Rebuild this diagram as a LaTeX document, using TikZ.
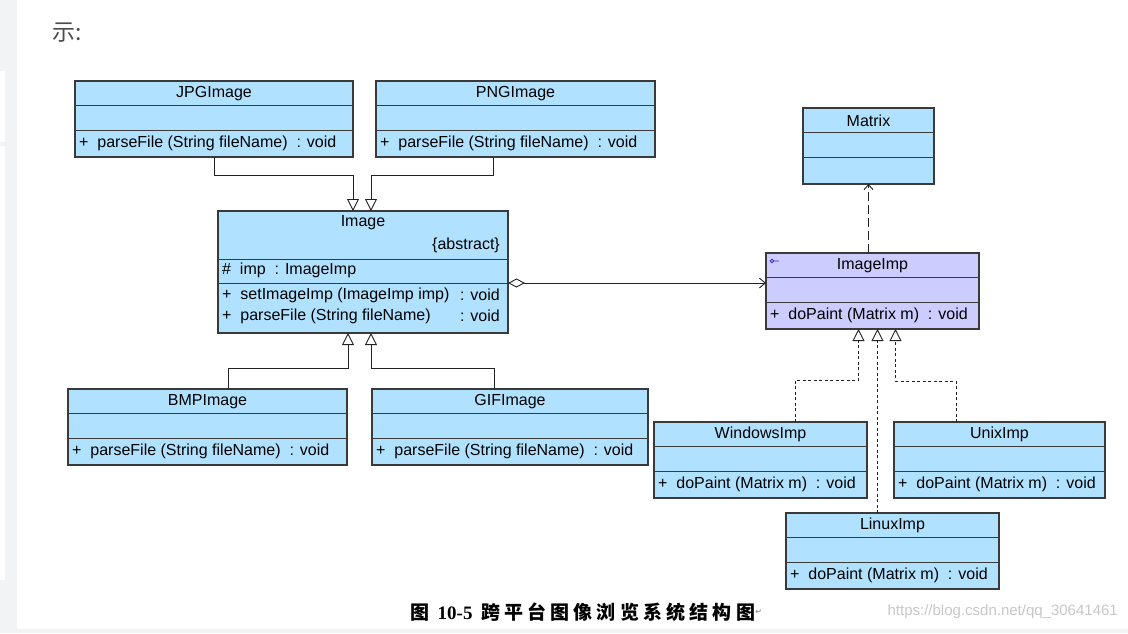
\documentclass[tikz,border=0pt]{standalone}
\usepackage{fontspec}
\setmainfont{Liberation Sans}
\newfontfamily\cjk{Noto Sans CJK SC}
\newfontfamily\capserif{Liberation Serif}
\newfontfamily\symfont{DejaVu Sans}
\usetikzlibrary{arrows.meta}

\definecolor{classblue}{HTML}{B0E2FF}
\definecolor{implilac}{HTML}{CCCCFF}
\definecolor{boxline}{HTML}{3A3A3A}
\definecolor{linkline}{HTML}{222222}
\definecolor{pagegray}{HTML}{F2F3F5}
\definecolor{marktext}{HTML}{C8C8C8}
\definecolor{bodytext}{HTML}{4D4D4D}
\definecolor{iconblue}{HTML}{3030D0}

\tikzset{
  classbox/.style={draw=boxline, line width=1.1pt, fill=classblue, rectangle,
    inner sep=0pt, outer sep=0pt, anchor=north west, minimum height=76pt},
  classline/.style={draw=boxline, line width=1pt},
  umltext/.style={inner sep=0pt, font=\fontsize{16}{19}\selectfont, text=black},
  inherit/.style={draw=linkline, line width=0.9pt, -{Triangle[open, length=12pt, width=12pt]}},
  realize/.style={inherit, dash pattern=on 3pt off 2.5pt},
  depend/.style={draw=linkline, line width=0.9pt, dash pattern=on 9pt off 4pt,
    -{Straight Barb[length=5pt, width=9pt]}},
  aggr/.style={draw=linkline, line width=0.9pt,
    {Diamond[open, length=17pt, width=9pt]}-{Straight Barb[length=6pt, width=10pt]}},
}

% class box: [extra style]{name}{x}{y}{width}{title}{operation}
\newcommand{\umlclass}[7][]{%
  \node[classbox, minimum width=#5pt, #1] (#2) at (#3,#4) {};
  \draw[classline] ([yshift=-24pt]#2.north west) -- ([yshift=-24pt]#2.north east);
  \draw[classline] ([yshift=-49pt]#2.north west) -- ([yshift=-49pt]#2.north east);
  \node[umltext] (#2-name) at ([yshift=-12.5pt]#2.north) {#6};
  \node[umltext, anchor=west] (#2-op) at ([xshift=4pt, yshift=-62pt]#2.north west) {#7};
}

\begin{document}
\begin{tikzpicture}[x=1pt, y=-1pt]
\useasboundingbox (0,0) rectangle (1128,633);
\fill[white] (0,0) rectangle (1128,633);
\fill[pagegray] (0,0) rectangle (17,633);
\fill[white] (0,71) rectangle (5,142);
\fill[white] (0,146) rectangle (5,580);
\fill[pagegray] (17,629) rectangle (1128,633);

\node[font=\cjk\fontsize{23}{27}\selectfont, text=bodytext, anchor=west, inner sep=0pt] (intro) at (52,33) {示:};

% the image hierarchy
\umlclass{jpg}{75}{81}{278}{JPGImage}{+~ parseFile (String fileName)~ : void}
\umlclass{png}{376}{81}{279}{PNGImage}{+~ parseFile (String fileName)~ : void}
\umlclass{bmp}{68}{389}{279}{BMPImage}{+~ parseFile (String fileName)~ : void}
\umlclass{gif}{372}{389}{276}{GIFImage}{+~ parseFile (String fileName)~ : void}

\node[classbox, minimum width=290pt, minimum height=122pt] (image) at (218,211) {};
\draw[classline] ([yshift=-48pt]image.north west) -- ([yshift=-48pt]image.north east);
\draw[classline] ([yshift=-72pt]image.north west) -- ([yshift=-72pt]image.north east);
\node[umltext] (image-name) at ([yshift=-12pt]image.north) {Image};
\node[umltext, anchor=east] (image-abs) at ([xshift=-8pt, yshift=-34pt]image.north east) {\{abstract\}};
\node[umltext, anchor=west] (image-attr) at ([xshift=4pt, yshift=-59pt]image.north west) {\#~ imp~ : ImageImp};
\node[umltext, anchor=west] (image-op1) at ([xshift=4pt, yshift=-84pt]image.north west) {+~ setImageImp (ImageImp imp)};
\node[umltext, anchor=west] (image-op2) at ([xshift=4pt, yshift=-105pt]image.north west) {+~ parseFile (String fileName)};
\node[umltext, anchor=east] (image-ret1) at ([xshift=-8pt, yshift=-84pt]image.north east) {: void};
\node[umltext, anchor=east] (image-ret2) at ([xshift=-8pt, yshift=-105pt]image.north east) {: void};

% the implementation side
\umlclass{matrix}{803}{108}{131}{Matrix}{}
\umlclass[fill=implilac]{imp}{766}{253}{213}{ImageImp}{+~ doPaint (Matrix m)~ : void}
\draw[iconblue, line width=0.8pt] ([xshift=6pt, yshift=-8pt]imp.north west) circle[radius=1.8pt]
  ++(1.8pt,0) -- ++(5pt,0);
\umlclass{win}{654}{422}{213}{WindowsImp}{+~ doPaint (Matrix m)~ : void}
\umlclass{unx}{894}{422}{211}{UnixImp}{+~ doPaint (Matrix m)~ : void}
\umlclass{lin}{786}{513}{213}{LinuxImp}{+~ doPaint (Matrix m)~ : void}

% generalisations
\coordinate (jpgin) at ([xshift=-10pt]image.north);
\coordinate (pngin) at ([xshift=8pt]image.north);
\coordinate (bmpin) at ([xshift=-15pt]image.south);
\coordinate (gifin) at ([xshift=8pt]image.south);
\draw[inherit] (jpg.south) |- ([yshift=36pt]jpgin) -- (jpgin);
\draw[inherit] ([xshift=117pt]png.south west) |- ([yshift=36pt]pngin) -- (pngin);
\draw[inherit] ([xshift=160pt]bmp.north west) |- ([yshift=-35pt]bmpin) -- (bmpin);
\draw[inherit] ([xshift=122pt]gif.north west) |- ([yshift=-35pt]gifin) -- (gifin);

% bridge and dependency
\coordinate (aggfrom) at ([yshift=-72pt]image.north east);
\draw[aggr] (aggfrom) -- (aggfrom -| imp.west);
\draw[depend] (imp.north -| matrix.south) -- (matrix.south);

% realisations
\coordinate (winin) at ([xshift=-14pt]imp.south);
\coordinate (linin) at ([xshift=5pt]imp.south);
\coordinate (unxin) at ([xshift=23pt]imp.south);
\draw[realize] ([xshift=141pt]win.north west) |- ([yshift=-51pt]winin) -- (winin);
\draw[realize] (lin.north -| linin) -- (linin);
\draw[realize] ([xshift=62pt]unx.north west) |- ([yshift=-52pt]unxin) -- (unxin);

% caption and mark
\node[anchor=west, inner sep=0pt] (caption) at (410,612)
  {\cjk\bfseries\fontsize{19}{22}\selectfont\addfontfeature{LetterSpace=22}图 {\capserif\bfseries 10-5} 跨平台图像浏览系统结构图};
\node[anchor=west, inner sep=0pt, text=gray, font=\symfont\fontsize{8}{9}\selectfont] (capend) at (caption.east) {↵};
\node[anchor=east, inner sep=0pt, text=marktext, font=\fontsize{15}{18}\selectfont] (mark) at (1118,612) {https://blog.csdn.net/qq\_30641461};
\end{tikzpicture}
\end{document}
